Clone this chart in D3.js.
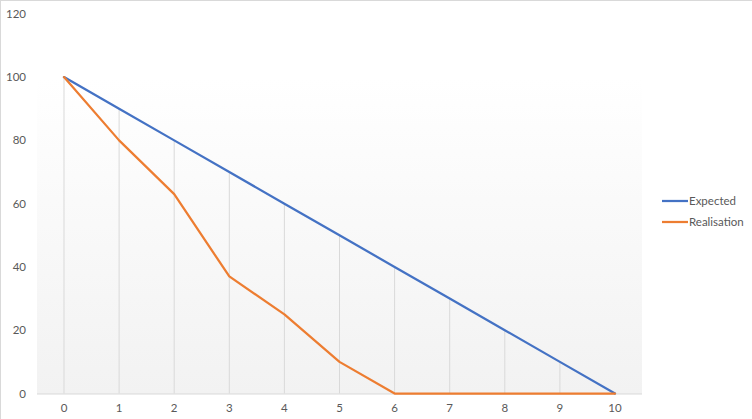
<!DOCTYPE html>
<html><head><meta charset="utf-8">
<script src="https://cdn.jsdelivr.net/npm/d3@7"></script>
<style>body{margin:0;background:#fff}svg{display:block}</style>
</head><body>
<script>
const categories = [0,1,2,3,4,5,6,7,8,9,10];
const expected = [100,90,80,70,60,50,40,30,20,10,0];
const realisation = [100,80,63,37,25,10,0,0,0,0,0];
const yTicks = [0,20,40,60,80,100,120];
const seriesNames = ["Expected","Realisation"];
const colors = ["#4472C4","#ED7D31"];

const W=752,H=419;
const svg=d3.select("body").append("svg").attr("width",W).attr("height",H);
svg.append("line").attr("x1",0).attr("x2",W).attr("y1",0.5).attr("y2",0.5).attr("stroke","#d9d9d9");
svg.append("line").attr("x1",0.5).attr("x2",0.5).attr("y1",0).attr("y2",H).attr("stroke","#d9d9d9");

const plotL=37, plotR=642, plotT=79, plotB=394;
const x=d3.scalePoint().domain(categories).range([64,615]);
const y=d3.scaleLinear().domain([0,120]).range([393.5,13.8]);

const defs=svg.append("defs");
const g=defs.append("linearGradient").attr("id","bg").attr("x1",0).attr("y1",0).attr("x2",0).attr("y2",1);
g.append("stop").attr("offset","0%").attr("stop-color","#ffffff");
g.append("stop").attr("offset","100%").attr("stop-color","#f2f2f2");
svg.append("rect").attr("x",plotL).attr("y",plotT).attr("width",plotR-plotL).attr("height",plotB-plotT).attr("fill","url(#bg)");

// drop lines
svg.append("g").selectAll("line").data(categories).join("line")
  .attr("x1",d=>x(d)).attr("x2",d=>x(d))
  .attr("y1",(d,i)=>y(Math.max(expected[i],realisation[i])))
  .attr("y2",y(0))
  .attr("stroke","#d9d9d9").attr("stroke-width",1);

// x axis line
svg.append("line").attr("x1",plotL).attr("x2",plotR).attr("y1",y(0)+0.5).attr("y2",y(0)+0.5).attr("stroke","#d9d9d9");

const font="Lato, 'Open Sans', sans-serif";
// y labels
svg.append("g").selectAll("text").data(yTicks).join("text")
  .attr("x",26).attr("y",d=>y(d)).attr("dy","0.35em").attr("text-anchor","end")
  .attr("font-family",font).attr("font-size",11.5).attr("fill","#595959").text(d=>d);
// x labels
svg.append("g").selectAll("text").data(categories).join("text")
  .attr("x",d=>x(d)).attr("y",408).attr("dy","0.35em").attr("text-anchor","middle")
  .attr("font-family",font).attr("font-size",11.5).attr("fill","#595959").text(d=>d);

const line=d3.line().x((d,i)=>x(categories[i])).y(d=>y(d));
[expected,realisation].forEach((s,k)=>{
  svg.append("path").datum(s).attr("d",line).attr("fill","none")
    .attr("stroke",colors[k]).attr("stroke-width",2.25).attr("stroke-linejoin","round").attr("stroke-linecap","round");
});

// legend
seriesNames.forEach((n,k)=>{
  const ly=201+k*21;
  svg.append("line").attr("x1",662).attr("x2",688).attr("y1",ly).attr("y2",ly).attr("stroke",colors[k]).attr("stroke-width",2.25);
  svg.append("text").attr("x",689).attr("y",ly).attr("dy","0.35em").attr("font-family",font).attr("font-size",11.5).attr("fill","#595959").text(n);
});
</script>
</body></html>
